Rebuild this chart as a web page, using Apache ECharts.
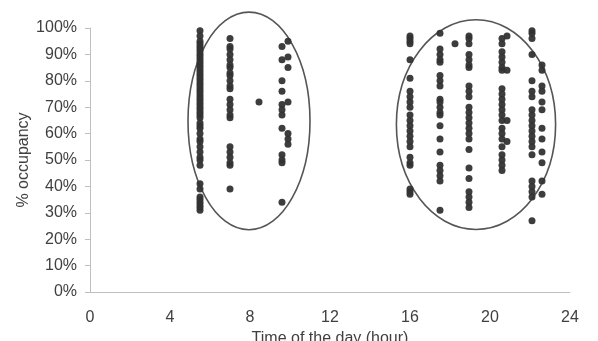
<!DOCTYPE html>
<html>
<head>
<meta charset="utf-8">
<script src="https://cdn.jsdelivr.net/npm/echarts@6/dist/echarts.min.js"></script>
<style>
  html, body { margin: 0; padding: 0; background: #fff; }
  #chart { width: 598px; height: 341px; }
</style>
</head>
<body>
<div id="chart"></div>
<script>
// hour of each column of readings
const hours = [5.5, 7.0, 8.45, 9.6, 9.9, 16.0, 17.5, 18.25, 18.95, 20.6, 20.85, 22.1, 22.6];
// % occupancy readings per column (same order as hours)
const occupancy = [
    [99, 97, 95, 94, 93, 92, 91, 90, 89, 88, 87, 86, 85, 84, 83, 82, 81, 80, 79, 78, 77, 76, 75, 74, 73, 72, 71, 70, 69, 68, 67, 66, 64, 63, 62, 60, 58, 57, 55, 53, 51, 50, 48, 41, 39, 36, 35, 34, 33, 32, 31],
    [96, 93, 92, 90, 88, 86, 85, 83, 82, 80, 78, 77, 73, 71, 69, 67, 66, 55, 53, 51, 49, 48, 39],
    [72],
    [93, 88, 80, 76, 71, 69, 67, 62, 52, 50, 49, 34],
    [95, 89, 85, 72, 60, 58, 56],
    [97, 96, 95, 94, 88, 81, 76, 74, 72, 70, 67, 65, 63, 61, 59, 57, 55, 51, 49, 48, 39, 38, 37],
    [98, 92, 90, 88, 87, 82, 80, 78, 73, 72, 70, 68, 67, 63, 58, 53, 48, 46, 44, 42, 31],
    [94],
    [97, 96, 94, 90, 88, 86, 85, 78, 76, 74, 70, 68, 66, 64, 62, 60, 58, 54, 47, 43, 38, 36, 34, 32],
    [96, 94, 91, 89, 87, 85, 84, 77, 75, 73, 71, 69, 67, 65, 62, 60, 58, 55, 52, 50, 48, 46],
    [97, 84, 65, 57],
    [99, 98, 96, 90, 80, 76, 74, 69, 67, 65, 63, 61, 59, 57, 55, 52, 42, 40, 38, 36, 27],
    [86, 84, 78, 76, 72, 69, 62, 58, 53, 49, 42, 37]
];
// circled groups: centre hour, centre %, half width (hours), half height (%)
const groups = [
    [7.95, 64.8, 3.05, 41.2],
    [19.3, 63.4, 3.98, 39.7]
];

const points = [];
hours.forEach((h, i) => {
    occupancy[i].forEach(v => points.push([h, v]));
});

const textColor = '#404040';
const axisColor = '#bfbfbf';

var myChart = echarts.init(document.getElementById('chart'));
var option = {
    animation: false,
    grid: {
        left: 90,
        right: 28,
        top: 28,
        bottom: 49,
        outerBoundsMode: 'none'
    },
    xAxis: {
        type: 'value',
        min: 0,
        max: 24,
        interval: 4,
        name: 'Time of the day (hour)',
        nameLocation: 'middle',
        nameGap: 39,
        nameMoveOverlap: false,
        nameTextStyle: { color: textColor, fontSize: 16, fontFamily: 'Liberation Sans' },
        axisLine: { show: true, lineStyle: { color: axisColor, width: 1 } },
        axisTick: { show: false },
        splitLine: { show: false },
        axisLabel: { color: textColor, fontSize: 16, fontFamily: 'Liberation Sans', margin: 18 }
    },
    yAxis: {
        type: 'value',
        min: 0,
        max: 100,
        interval: 10,
        name: '% occupancy',
        nameLocation: 'middle',
        nameGap: 58,
        nameMoveOverlap: false,
        nameTextStyle: { color: textColor, fontSize: 16, fontFamily: 'Liberation Sans' },
        axisLine: { show: true, lineStyle: { color: axisColor, width: 1 } },
        axisTick: { show: true, length: 5, lineStyle: { color: axisColor } },
        splitLine: { show: false },
        axisLabel: { color: textColor, fontSize: 16, fontFamily: 'Liberation Sans', margin: 13, formatter: '{value}%' }
    },
    series: [
        {
            type: 'scatter',
            data: points,
            symbolSize: 7,
            itemStyle: { color: '#333333', opacity: 0.95 }
        },
        {
            type: 'custom',
            data: groups,
            silent: true,
            renderItem: function (params, api) {
                const c = api.coord([api.value(0), api.value(1)]);
                const s = api.size([api.value(2), api.value(3)]);
                return {
                    type: 'ellipse',
                    shape: { cx: c[0], cy: c[1], rx: s[0], ry: s[1] },
                    style: { fill: 'none', stroke: '#555555', lineWidth: 1.6 }
                };
            }
        }
    ]
};
option && myChart.setOption(option);
</script>
</body>
</html>
